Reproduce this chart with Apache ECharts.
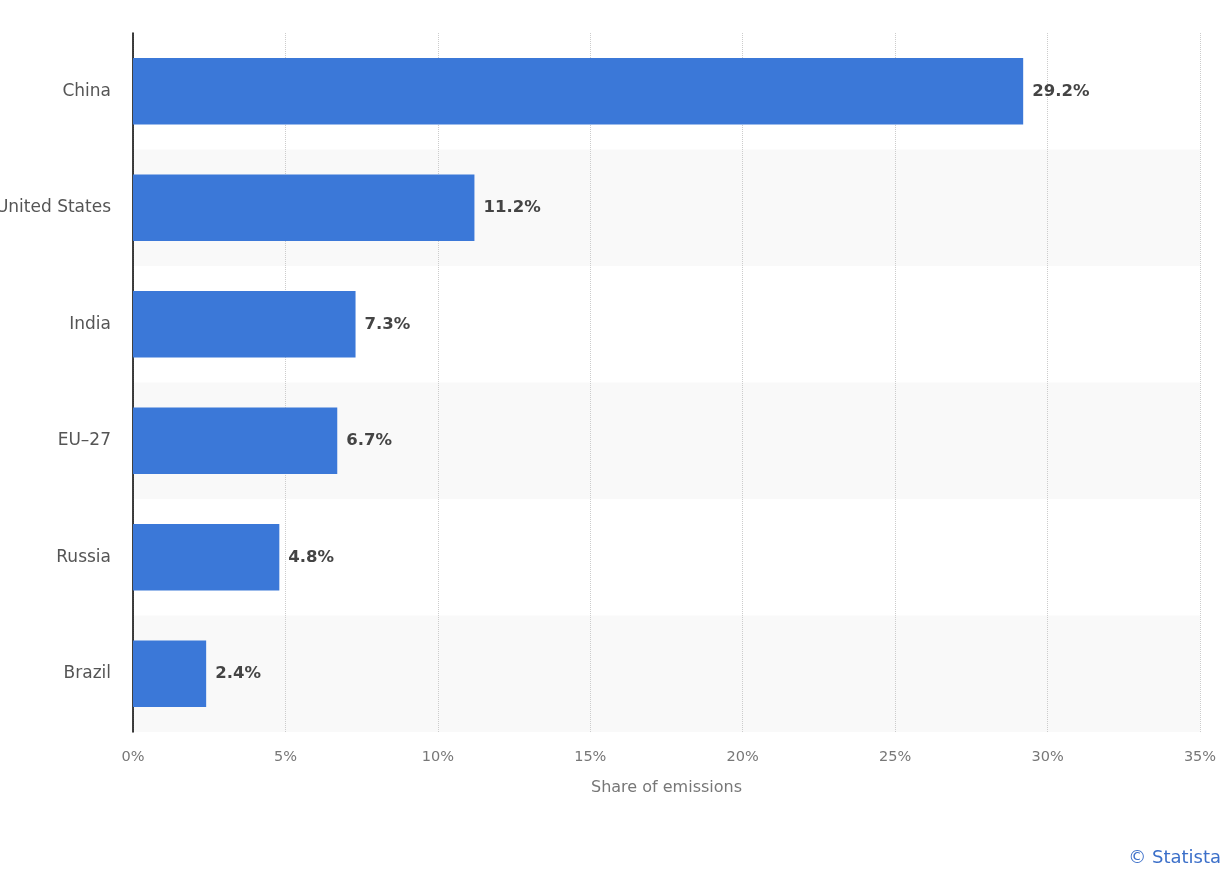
<!DOCTYPE html>
<html><head><meta charset="utf-8">
<script src="https://cdn.jsdelivr.net/npm/echarts@6/dist/echarts.min.js"></script>
<style>html,body{margin:0;padding:0;background:#fff}#c{width:1225px;height:884px}</style>
</head><body><div id="c"></div>
<script>
const categories = ['China','United States','India','EU–27','Russia','Brazil'];
const shares = [29.2, 11.2, 7.3, 6.7, 4.8, 2.4];
const xTicks = [0,5,10,15,20,25,30,35];
const F = 'DejaVu Sans';
const chart = echarts.init(document.getElementById('c'));
chart.setOption({
  backgroundColor:'#fff',
  grid:{left:133,right:25,top:33,bottom:152,containLabel:false,outerBoundsMode:'none'},
  xAxis:{type:'value',min:0,max:35,interval:5,
    axisLabel:{formatter:v=>v+'%',color:'#777',fontSize:14.5,fontFamily:F,margin:18},
    axisLine:{show:false},axisTick:{show:false},
    splitLine:{show:true,lineStyle:{color:'#ccc',type:'dotted',width:1}},
    name:'Share of emissions',nameLocation:'middle',nameGap:48,
    nameTextStyle:{color:'#777',fontSize:16,fontFamily:F}},
  yAxis:{type:'category',data:categories,inverse:true,
    axisLabel:{color:'#555',fontSize:17,fontFamily:F,margin:22},
    axisLine:{show:true,lineStyle:{color:'#000',width:1.5}},axisTick:{show:false},
    splitArea:{show:true,areaStyle:{color:['#ffffff','#f9f9f9']}}},
  series:[{type:'bar',data:shares,barWidth:'57%',
    itemStyle:{color:'#3b78d8'},
    label:{show:true,position:'right',formatter:p=>p.value.toFixed(1)+'%',
      color:'#444',fontWeight:'bold',fontSize:16.5,fontFamily:F,distance:9}}],
  graphic:[{type:'text',right:4,top:849,style:{text:'© Statista',fill:'#3b6fc9',fontSize:18,fontFamily:F}}]
});
</script></body></html>
